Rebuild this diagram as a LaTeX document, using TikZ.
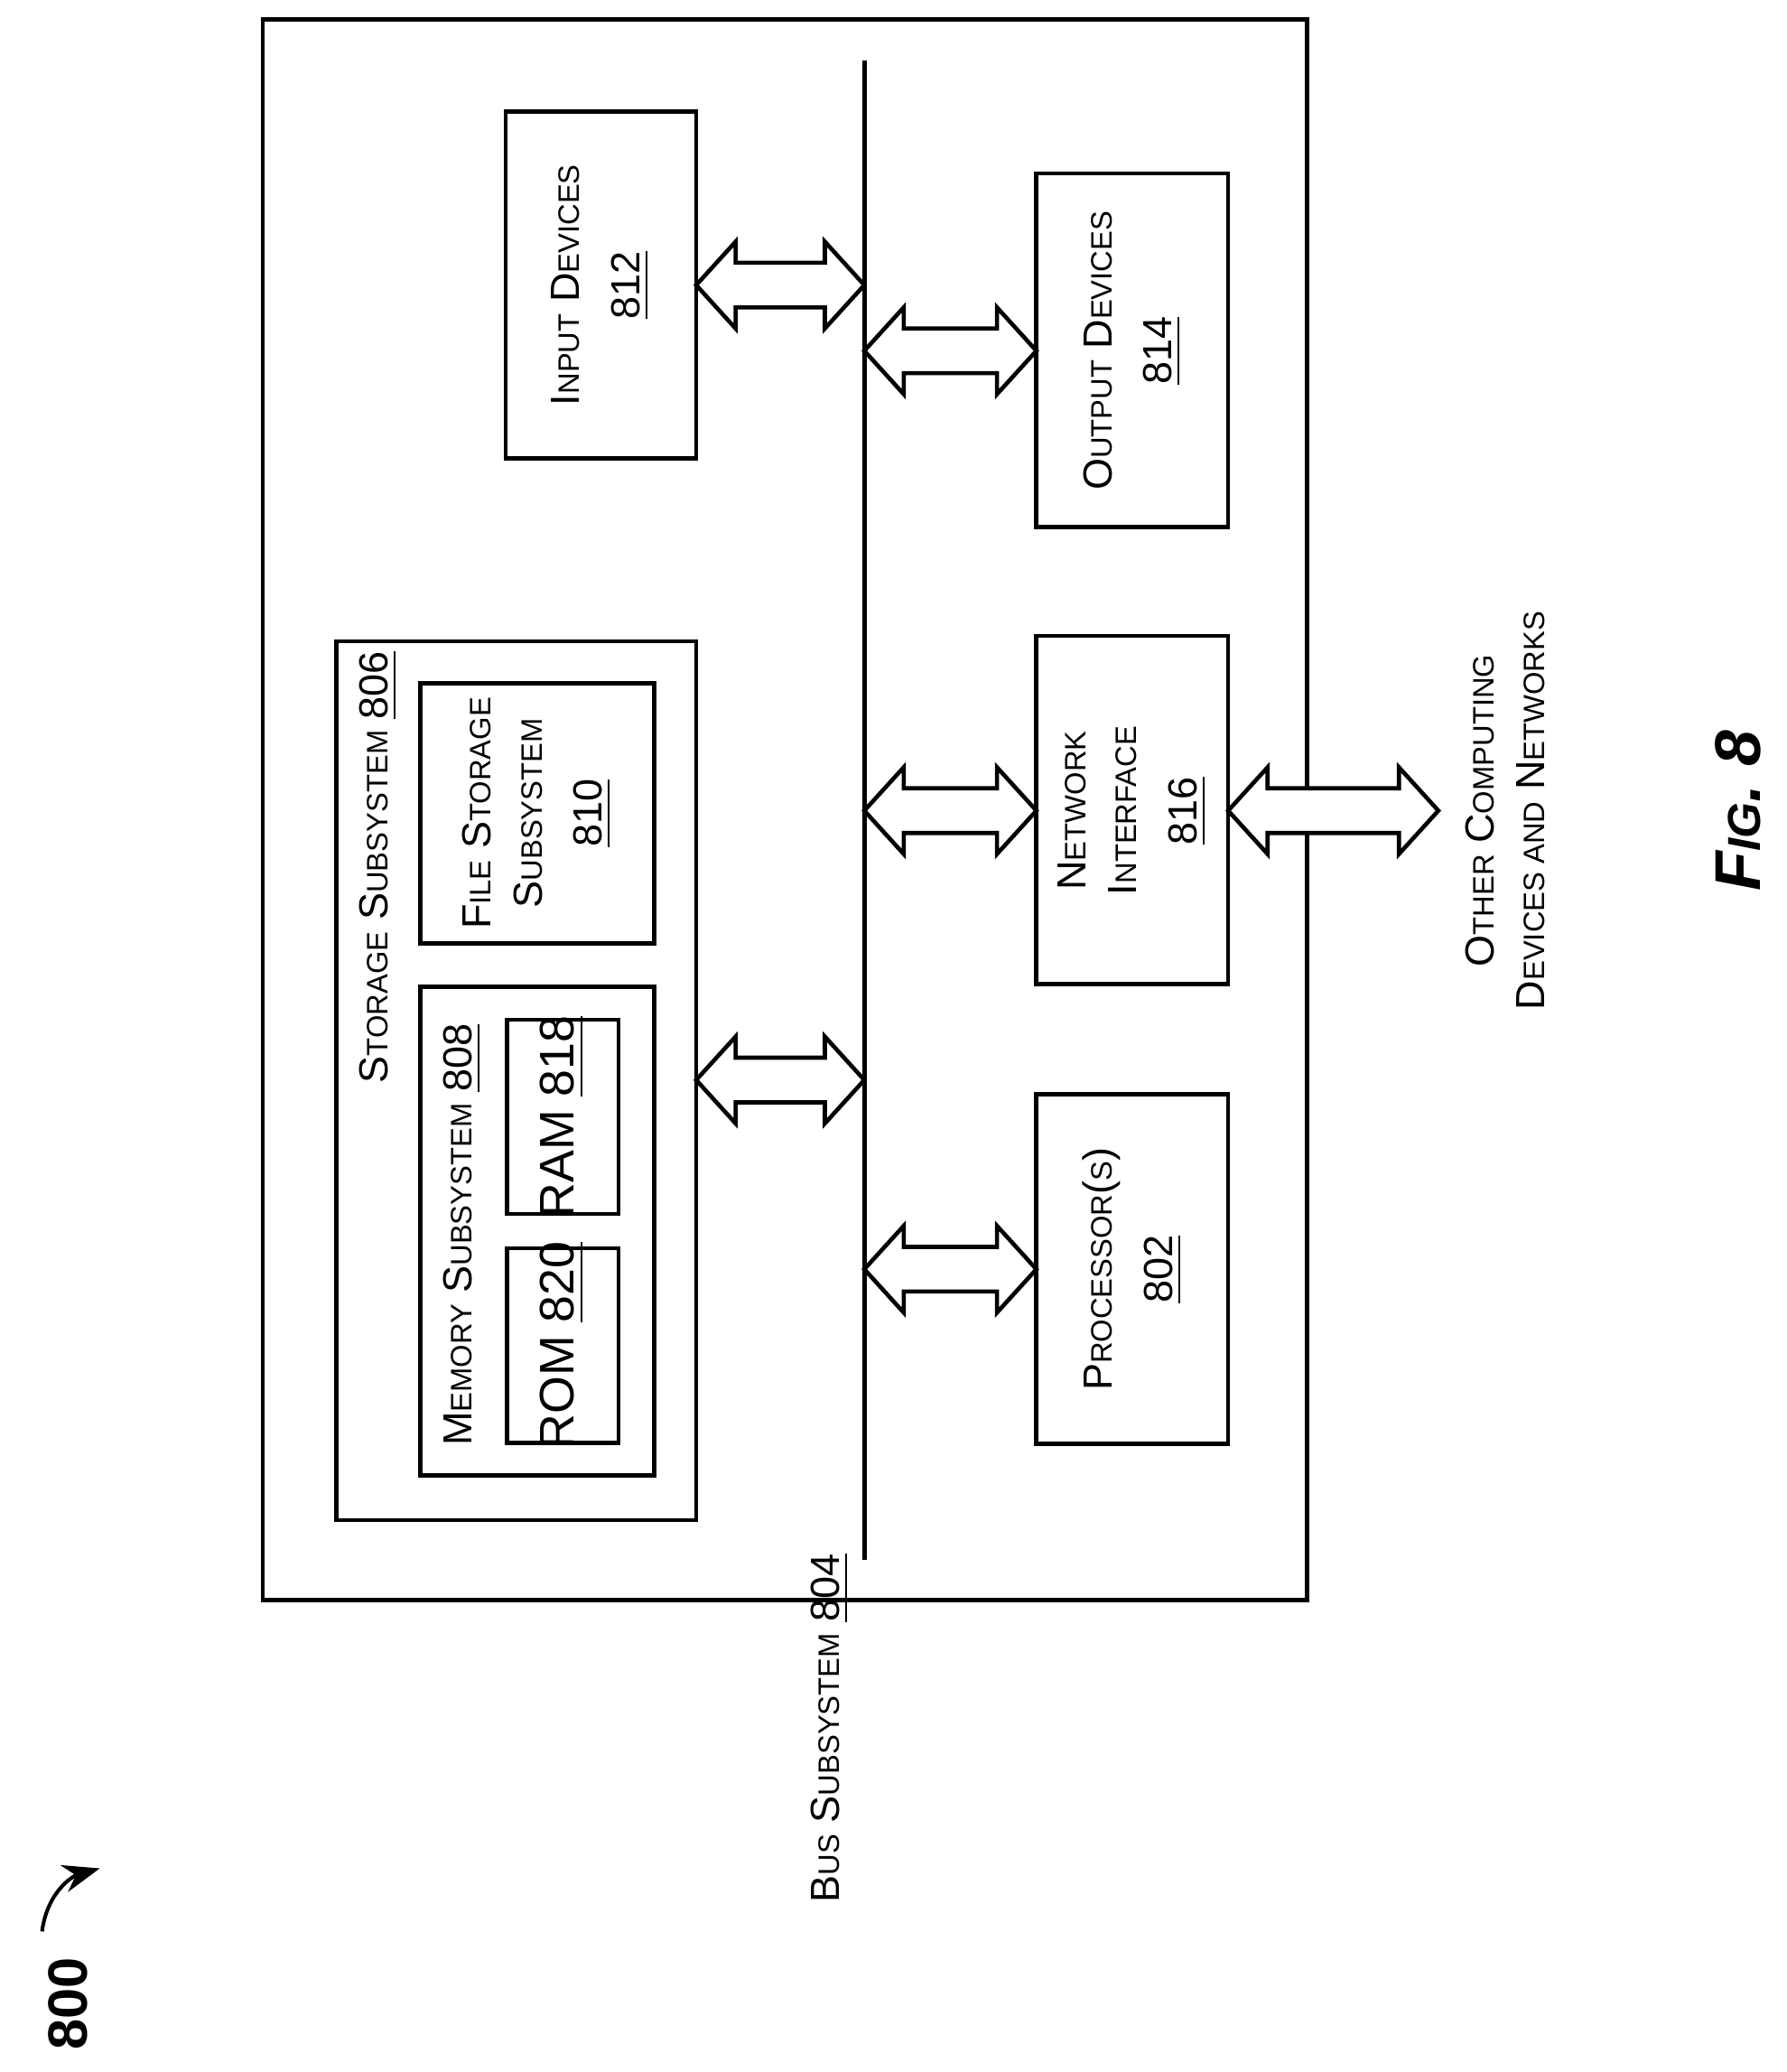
\documentclass[tikz,border=0pt]{standalone}
\usepackage{fontspec}
\usetikzlibrary{arrows.meta}
\setmainfont{Liberation Sans}
\newcommand\SC[1]{{\fontsize{6.4pt}{7pt}\selectfont #1}}
\begin{document}
\begin{tikzpicture}[x=0.01cm,y=-0.01cm,
  box/.style={draw,line width=0.9pt},
  lbl/.style={rotate=90,align=center,font=\fontsize{8.8pt}{11pt}\selectfont,inner sep=0},
  arr/.style={draw,line width=0.9pt,fill=white,line join=miter}]
\useasboundingbox (0,0) rectangle (1360,1577);
\newcommand\dbl[4]{% name, x1, x2, yc
  \coordinate (#1a) at (#2,#4); \coordinate (#1b) at (#3,#4);
  \draw[arr] (#2,#4) -- (#2+30,#4-33) -- (#2+30,#4-17) -- (#3-30,#4-17) -- (#3-30,#4-33) -- (#3,#4)
   -- (#3-30,#4+33) -- (#3-30,#4+17) -- (#2+30,#4+17) -- (#2+30,#4+33) -- cycle;}
\draw[box] (200,15) rectangle (995,1218);
\draw[line width=1pt] (658,46) coordinate (bt) -- (658,1187) coordinate (bb);
\node[lbl,anchor=east] (bus) at (632,1182) {B\SC{US} S\SC{UBSYSTEM} \underline{804}};

\draw[box] (385,85) rectangle (530,349);
\node[lbl] (inl) at (457,217) {I\SC{NPUT} D\SC{EVICES}\\[2pt]\underline{812}};
\draw[box] (789,132) rectangle (935,401);
\node[lbl] (outl) at (862,267) {O\SC{UTPUT} D\SC{EVICES}\\[2pt]\underline{814}};
\draw[box] (789,484) rectangle (935,749);
\node[lbl] (netl) at (862,617) {N\SC{ETWORK}\\I\SC{NTERFACE}\\[2pt]\underline{816}};
\draw[box] (789,833) rectangle (935,1099);
\node[lbl] (procl) at (862,966) {P\SC{ROCESSOR}(\SC{S})\\[2pt]\underline{802}};

\draw[box] (256,488) rectangle (530,1157);
\node[lbl] (stl) at (288,660) {S\SC{TORAGE} S\SC{UBSYSTEM} \underline{806}};
\draw[box] (320,520) rectangle (498,718);
\node[lbl] (fsl) at (409,619) {F\SC{ILE} S\SC{TORAGE}\\S\SC{UBSYSTEM}\\[2pt]\underline{810}};
\draw[box] (320,751) rectangle (498,1123);
\node[lbl] (meml) at (352,940) {M\SC{EMORY} S\SC{UBSYSTEM} \underline{808}};
\draw[box] (386,776) rectangle (471,924);
\node[lbl,font=\fontsize{10.5pt}{12pt}\selectfont] (ram) at (428,850) {RAM \underline{818}};
\draw[box] (386,950) rectangle (471,1098);
\node[lbl,font=\fontsize{10.5pt}{12pt}\selectfont] (rom) at (428,1024) {ROM \underline{820}};

\dbl{a1}{530}{658}{217}
\dbl{a2}{658}{789}{267}
\dbl{a3}{530}{658}{822}
\dbl{a4}{658}{789}{617}
\dbl{a5}{658}{789}{966}
\dbl{a6}{935}{1095}{617}

\node[lbl] (oth) at (1146,617) {O\SC{THER} C\SC{OMPUTING}\\D\SC{EVICES AND} N\SC{ETWORKS}};
\node[rotate=90,font=\bfseries\itshape\fontsize{14pt}{16pt}\selectfont,inner sep=0] (fig) at (1323,617) {F{\fontsize{10pt}{12pt}\selectfont IG}. 8};
\node[rotate=90,font=\bfseries\fontsize{12pt}{14pt}\selectfont,inner sep=0] (n800) at (52,1525) {800};
\coordinate (c1) at (32,1470); \coordinate (c2) at (76,1422);
\draw[line width=0.8pt,-{Stealth[length=8pt]}] (c1) .. controls (36,1440) and (55,1428) .. (c2);
\end{tikzpicture}
\end{document}
